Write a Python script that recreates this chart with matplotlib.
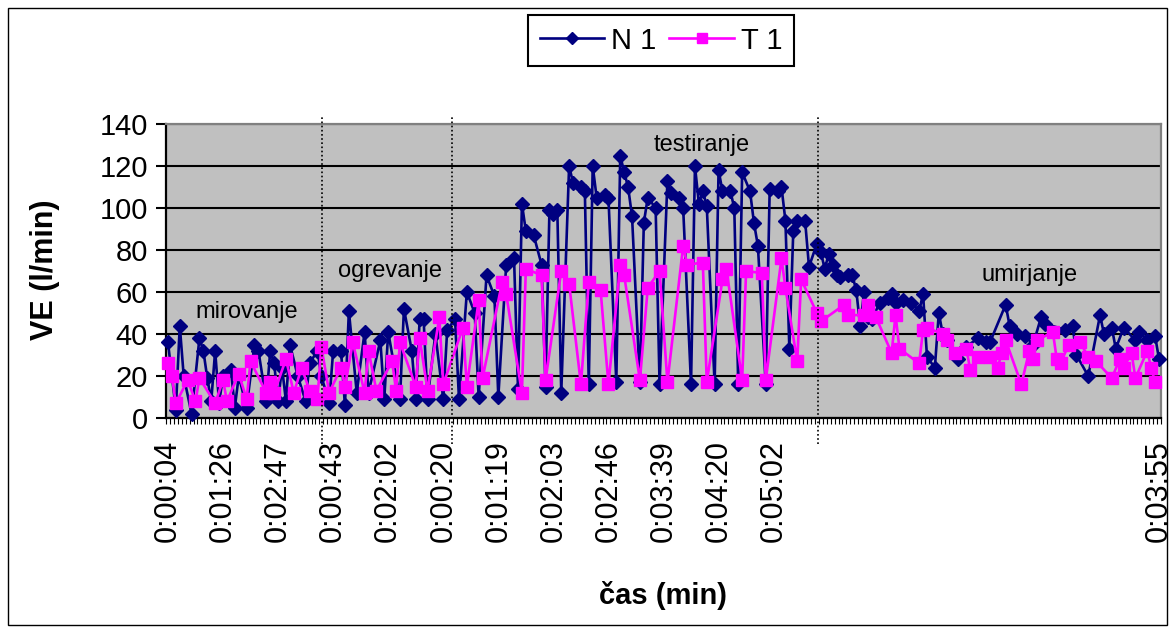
import matplotlib
matplotlib.use("Agg")
import matplotlib.pyplot as plt
import numpy as np
from matplotlib.patches import Rectangle

plt.rcParams['font.family'] = ['Liberation Sans', 'DejaVu Sans']

# VE values per phase, one entry per category (None = empty cell)
n1_mirovanje = [36, None, 4, 44, 20, None, 2, None, 38, 32, 19, 8, 32, 7, 20, None, 23, 5, 20, None,
                5, None, 35, 32, None, 8, 32, 26, 8, 24, 8, 35, None, 20, None, 8, 26, None, 32]
t1_mirovanje = [26, 20, 7, None, None, 18, None, 8, 19, None, None, None, 7, None, 18, 8, None, None, 21, None,
                9, 27, None, None, None, 12, 17, 12, None, None, 28, None, 12, None, 24, None, 13, None, 9]

n1_ogrevanje = [20, None, 7, 32, None, 32, 6, 51, None, 12, None, 41, 12, None, None, 37, 9, 41, None, None,
                9, 52, None, 32, 9, 47, 47, 9, None, 40, None, 9, 42]
t1_ogrevanje = [34, None, 12, None, None, 24, 15, None, 36, None, None, 12, 32, None, 13, None, None, None, 27, 13,
                36, None, None, None, 15, 38, None, 13, None, None, 48, 16, None]

n1_testiranje = [None, 47, 9, None, 60, None, 50, 10, None, 68,
                 None, 58, 10, None, 73, None, 76, 14, 102, 89,
                 None, 87, None, 73, 15, 99, 97, 99, 12, None,
                 120, 112, None, 110, 108, 16, 120, 105, None, 106,
                 105, None, 17, 125, 117, 110, 96, None, 17, 93,
                 105, None, 100, 16, None, 113, 107, None, 105, 100,
                 None, 16, 120, 102, 108, 101, None, 16, 118, 108,
                 None, 108, 100, 16, 117, None, 108, 93, 82, None,
                 16, 109, None, 108, 110, 94, 33, 89, 94, None,
                 94, 72, None, 83]
t1_testiranje = [None, None, None, 43, 15, None, None, 56, 19, None,
                 None, None, None, 65, 59, None, None, None, 12, 71,
                 None, None, None, 68, 18, None, None, None, 70, None,
                 64, None, None, 16, None, 65, None, None, 61, None,
                 16, None, None, 73, 68, None, None, None, 18, None,
                 62, None, None, 70, None, 17, None, None, None, 82,
                 73, None, None, None, 74, 17, None, None, None, 66,
                 71, None, None, None, 18, 70, None, None, None, 69,
                 18, None, None, None, 76, 62, None, None, 27, 66,
                 None, None, None, 50]

n1_umirjanje = [79, 71, 78, 73, 68, 67, None, 68, 68, 61,
                44, 60, 48, 47, None, 55, None, 57, 59, 55,
                None, 56, None, 55, None, 51, 59, 29, None, 24,
                50, 40, 37, None, None, 28, None, 34, None, None,
                38, None, 36, 36, None, None, None, 54, 44, None,
                40, None, 39, None, 35, None, 48, 45, None, None,
                None, None, 42, None, 44, 30, None, None, 20, None,
                None, 49, 40, None, 43, 33, None, 43, None, None,
                37, 41, None, 37, None, 39, 28]
t1_umirjanje = [46, None, None, None, None, None, 54, 49, None, None,
                None, 49, 54, None, 48, None, None, None, 31, 49,
                33, None, None, None, None, 26, 42, 43, None, None,
                None, 40, 37, None, 31, None, None, 33, 23, None,
                29, None, None, 29, None, 24, 31, 37, None, None,
                None, 16, None, 32, 28, 37, None, None, None, 41,
                28, 26, None, 35, None, None, 36, None, 29, None,
                27, None, None, None, 19, None, 28, 24, None, 31,
                19, None, None, 32, 24, 17, None]

tick_labels = ['0:00:04', '0:01:26', '0:02:47', '0:00:43', '0:02:02', '0:00:20', '0:01:19',
               '0:02:03', '0:02:46', '0:03:39', '0:04:20', '0:05:02',
               '', '', '', '', '', '', '0:03:55']
label_step = 14

phase_names = ['mirovanje', 'ogrevanje', 'testiranje', 'umirjanje']

n1 = np.array(n1_mirovanje + n1_ogrevanje + n1_testiranje + n1_umirjanje, dtype=float)
t1 = np.array(t1_mirovanje + t1_ogrevanje + t1_testiranje + t1_umirjanje, dtype=float)
cats = np.arange(len(n1))
ncat = len(cats)

fig = plt.figure(figsize=(11.75, 6.28), dpi=100, facecolor='white')
ax = fig.add_axes([166/1175, 1 - 418/628, 995/1175, 294/628])
ax.set_facecolor('#C0C0C0')
ax.set_xlim(-0.5, ncat - 0.5)
ax.set_ylim(0, 140)
ax.set_yticks(np.arange(0, 141, 20))
ax.yaxis.grid(True, color='black', lw=1.5)
ax.set_axisbelow(True)

m = ~np.isnan(n1)
ln1, = ax.plot(cats[m], n1[m], color='#000080', lw=1.9, marker='D', ms=7.5,
               mfc='#000080', mec='#000080', zorder=3, clip_on=False)
m = ~np.isnan(t1)
lt1, = ax.plot(cats[m], t1[m], color='#FF00FF', lw=1.9, marker='s', ms=8.5,
               mfc='#FF00FF', mec='#FF00FF', zorder=4, clip_on=False)

# x axis: labels every 14th category, ticks between categories
ax.set_xticks(np.arange(0, ncat, label_step))
ax.set_xticklabels(tick_labels, rotation=90, fontsize=22)
ax.tick_params(axis='x', which='major', length=0, pad=16)
ax.set_xticks(np.arange(-0.5, ncat, 1), minor=True)
ax.tick_params(axis='x', which='minor', length=4.5, width=0.8, direction='out')
ax.tick_params(axis='y', length=7, width=1.5, labelsize=21, pad=6)

for s in ['left', 'bottom']:
    ax.spines[s].set_color('black')
    ax.spines[s].set_linewidth(1.6)
for s in ['top', 'right']:
    ax.spines[s].set_color('#808080')
    ax.spines[s].set_linewidth(1.6)

# phase separators
for xc in [39.1, 72.1, 165.2]:
    ax.plot([xc, xc], [-0.088, 1.024], transform=ax.get_xaxis_transform(), color='black',
            ls=(0, (1, 1.5)), lw=1.2, clip_on=False, zorder=5)

phase_pos = [(20.0, 50.6), (56.5, 70.1), (135.7, 130), (219.2, 68)]
for name, (px, py) in zip(phase_names, phase_pos):
    ax.text(px, py, name, ha='center', va='center', fontsize=17, zorder=6)

fig.text(0.038, 0.570, 'VE (l/min)', rotation=90, ha='center', va='center',
         fontsize=22, fontweight='bold')
fig.text(663/1175, 0.052, 'čas (min)', ha='center', va='center',
         fontsize=21, fontweight='bold')

leg = fig.legend([ln1, lt1], ['N 1', 'T 1'], loc='center', bbox_to_anchor=(0.5626, 0.9355),
                 ncol=2, fontsize=21, frameon=True, fancybox=False, edgecolor='black',
                 framealpha=1, handlelength=2.2, handletextpad=0.25, columnspacing=0.45,
                 borderpad=0.4, markerscale=0.8)
leg.get_frame().set_linewidth(1.5)

fig.patches.append(Rectangle((8/1175, 3/628), 1159/1175, 617/628, transform=fig.transFigure,
                             fill=False, edgecolor='black', lw=1))

fig.savefig('out.png', dpi=100, facecolor='white')
